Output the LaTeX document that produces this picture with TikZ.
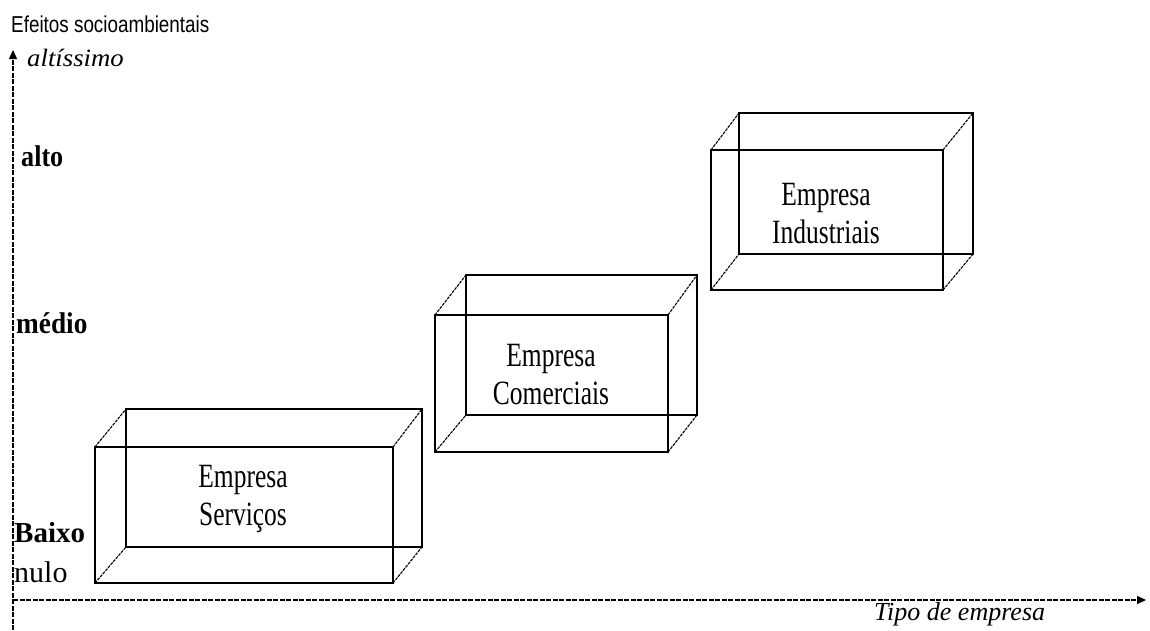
\documentclass[tikz,border=0pt]{standalone}
\usepackage{fontspec}
\usepackage{graphicx}
\setmainfont{Liberation Serif}
\newfontfamily\lsans{Liberation Sans}
\usetikzlibrary{arrows.meta}
\newcommand{\sq}[1]{\scalebox{0.75}[1]{#1}}
\tikzset{
  edge/.style={line width=1.6pt, line join=miter},
  depth/.style={line width=1.1pt, dash pattern=on 3pt off 1pt},
  axis/.style={line width=1.4pt, dash pattern=on 5pt off 1.5pt, -{Triangle[length=9pt,width=8pt]}},
  lvl/.style={anchor=base west, inner sep=0pt, font=\bfseries\fontsize{30}{32}\selectfont},
  boxtext/.style={align=center, inner sep=0pt, font=\fontsize{34}{38}\selectfont}
}
\begin{document}
\begin{tikzpicture}[x=1pt,y=-1pt]
\useasboundingbox[fill=white] (0,0) rectangle (1150,630);
% axes
\coordinate (o) at (13,600);
\coordinate (ytop) at (13,50);
\coordinate (ybot) at (13,630);
\coordinate (xend) at (1146,600);
\draw[axis] (ybot) -- (ytop);
\draw[axis] (o) -- (xend);
% labels
\node[anchor=base west, inner sep=0pt, font=\lsans\fontsize{23}{26}\selectfont] (ylab) at (11,32) {\scalebox{0.82}[1]{Efeitos socioambientais}};
\node[anchor=base west, inner sep=0pt, font=\itshape\fontsize{25}{28}\selectfont] (alt) at (27,66) {\scalebox{1.07}[1]{altíssimo}};
\node[lvl] (alto) at (21,166) {\scalebox{0.87}[1]{alto}};
\node[lvl] (medio) at (16,333) {\scalebox{0.91}[1]{médio}};
\node[lvl, font=\bfseries\fontsize{29}{30}\selectfont] (baixo) at (14,542) {Baixo};
\node[lvl, font=\fontsize{30}{32}\selectfont] (nulo) at (14,582) {nulo};
\node[anchor=base west, inner sep=0pt, font=\itshape\fontsize{26}{28}\selectfont] (xlab) at (874,620) {Tipo de empresa};
% box 1
\draw[edge] (126,409) rectangle (422,547);
\draw[edge] (95,447) rectangle (393,583);
\draw[depth] (95,447) -- (126,409);
\draw[depth] (393,447) -- (422,409);
\draw[depth] (95,583) -- (126,547);
\draw[depth] (393,583) -- (422,547);
\node[boxtext] (serv) at (243,499) {\sq{Empresa}\\\sq{Serviços}};
% box 2
\draw[edge] (466,275) rectangle (697,415);
\draw[edge] (435,315) rectangle (668,452);
\draw[depth] (435,315) -- (466,275);
\draw[depth] (668,315) -- (697,275);
\draw[depth] (435,452) -- (466,415);
\draw[depth] (668,452) -- (697,415);
\node[boxtext] (com) at (551,375) {\sq{Empresa}\\\sq{Comerciais}};
% box 3
\draw[edge] (739,113) rectangle (973,254);
\draw[edge] (711,150) rectangle (943,290);
\draw[depth] (711,150) -- (739,113);
\draw[depth] (943,150) -- (973,113);
\draw[depth] (711,290) -- (739,254);
\draw[depth] (943,290) -- (973,254);
\node[boxtext] (ind) at (826,214) {\sq{Empresa}\\\sq{Industriais}};
\end{tikzpicture}
\end{document}
